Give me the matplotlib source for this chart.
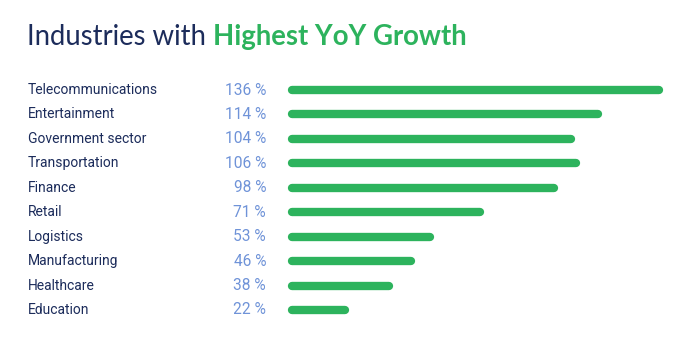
import matplotlib
matplotlib.use('Agg')
from matplotlib import pyplot as plt
from matplotlib import transforms

industries = ['Telecommunications', 'Entertainment', 'Government sector', 'Transportation',
              'Finance', 'Retail', 'Logistics', 'Manufacturing', 'Healthcare', 'Education']
growth = [136, 114, 104, 106, 98, 71, 53, 46, 38, 22]

green = '#2db35d'
navy = '#1c2c5b'
light_blue = '#6f93d8'

fig = plt.figure(figsize=(6.92, 3.4), dpi=100)
fig.patch.set_facecolor('white')

# bar area: x pixels 288..663, rows at y=90..310
W, H = 692, 340
ax = fig.add_axes([288 / W, 1 - 322.2 / H, (663 - 288) / W, (322.2 - 77.8) / H])
ax.set_xlim(0, 136)
ax.set_ylim(len(industries) - 0.5, -0.5)
ax.axis('off')

# round caps stick out ~4px, so pull the line ends in by that much
pad = 4 * 136 / (663 - 288)
for i, val in enumerate(growth):
    ax.plot([pad, val - pad], [i, i], color=green, linewidth=6.0,
            solid_capstyle='round', clip_on=False)

trans = transforms.blended_transform_factory(fig.transFigure, ax.transData)
for i, (name, val) in enumerate(zip(industries, growth)):
    ax.text(28 / W, i, name, transform=trans, ha='left', va='center',
            fontsize=10, color=navy, family='Roboto')
    ax.text(266 / W, i, f'{val} %', transform=trans, ha='right', va='center',
            fontsize=11.2, color=light_blue, family='Roboto')

t1 = fig.text(27 / W, 1 - 37 / H, 'Industries with ', fontsize=19.8, color=navy,
              family='Lato', fontweight='normal', va='center', ha='left')
fig.canvas.draw()
bb = t1.get_window_extent()
fig.text(bb.x1 / W, 1 - 37 / H, 'Highest YoY Growth', fontsize=19.8, color=green,
         family='Lato', fontweight='bold', va='center', ha='left')

fig.savefig('out.png', dpi=100)
